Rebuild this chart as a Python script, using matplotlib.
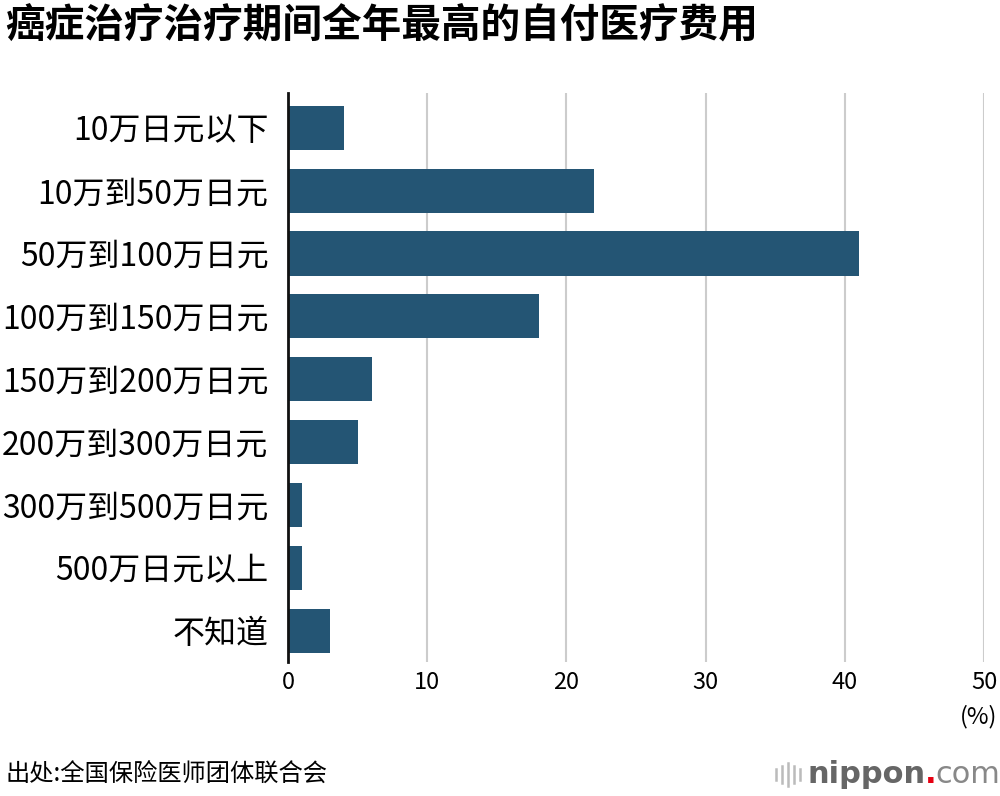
import matplotlib
matplotlib.use('Agg')
import matplotlib.pyplot as plt

plt.rcParams['font.family'] = ['Noto Sans CJK SC', 'DejaVu Sans']

# 数据
categories = ['10万日元以下', '10万到50万日元', '50万到100万日元', '100万到150万日元',
              '150万到200万日元', '200万到300万日元', '300万到500万日元',
              '500万日元以上', '不知道']
values = [4, 22, 41, 18, 6, 5, 1, 1, 3]
xticks = [0, 10, 20, 30, 40, 50]

bar_color = '#245574'

fig = plt.figure(figsize=(10, 7.96), dpi=100)
ax = fig.add_axes([0.288, 0.168, 0.696, 0.715])

ypos = list(range(len(categories)))
ax.barh(ypos, values, height=0.7, color=bar_color, zorder=3)

ax.set_xlim(0, 50)
ax.set_ylim(len(categories) - 0.5, -0.55)
ax.set_xticks(xticks)
ax.set_xticklabels([str(t) for t in xticks], fontsize=17, fontweight='medium')
ax.set_yticks(ypos)
ax.set_yticklabels(categories, fontsize=23, fontweight='medium')
ax.tick_params(axis='both', length=0)
ax.tick_params(axis='x', pad=6)
ax.tick_params(axis='y', pad=14)

ax.grid(axis='x', color='#cccccc', linewidth=1.5, zorder=0)
for s in ['top', 'right', 'bottom']:
    ax.spines[s].set_visible(False)
ax.spines['left'].set_linewidth(2)
ax.spines['left'].set_color('#111111')
ax.spines['left'].set_zorder(4)

# (%) 单位
fig.text(0.979, 0.1, '(%)', ha='center', va='center', fontsize=17, fontweight='medium')

fig.text(0.005, 0.968, '癌症治疗治疗期间全年最高的自付医疗费用', fontsize=28.5, fontweight='bold',
         ha='left', va='center')
fig.text(0.005, 0.027, '出处:全国保险医师团体联合会', fontsize=17.5, ha='left', va='center')

# logo
for i, h in enumerate([0.014, 0.022, 0.028, 0.022, 0.014]):
    xx = 0.776 + i * 0.006
    fig.add_artist(plt.Line2D([xx, xx], [0.027 - h / 2, 0.027 + h / 2], color='#bbbbbb', linewidth=1.8))
fig.text(0.808, 0.027, 'nippon', fontsize=22, color='#666666', fontweight='bold',
         ha='left', va='center', family='DejaVu Sans')
fig.text(0.925, 0.027, '.', fontsize=22, color='#e60012', fontweight='bold',
         ha='left', va='center', family='DejaVu Sans')
fig.text(0.935, 0.027, 'com', fontsize=22, color='#888888',
         ha='left', va='center', family='DejaVu Sans')

fig.savefig('out.png', dpi=100)
